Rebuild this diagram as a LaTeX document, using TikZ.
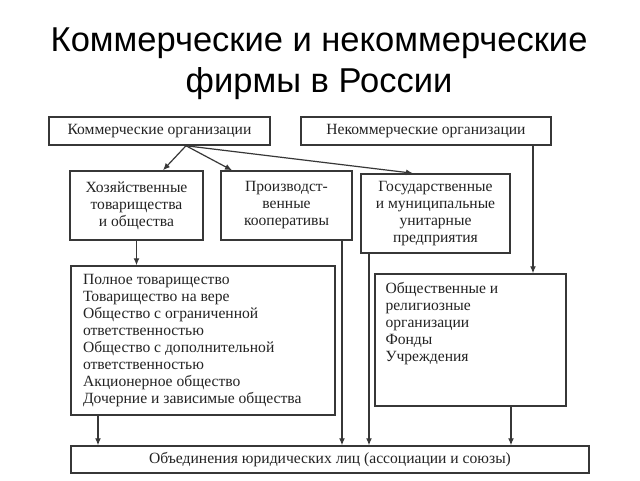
\documentclass[tikz,border=0pt]{standalone}
\usepackage{fontspec}
\setmainfont{Liberation Serif}
\newfontfamily\titlefont{Liberation Sans}
\usetikzlibrary{arrows.meta,calc,positioning}
\definecolor{orgline}{RGB}{55,55,55}
\definecolor{orgtext}{RGB}{35,35,35}

\begin{document}
\begin{tikzpicture}[x=1pt,y=-1pt,line cap=round,
  orgbox/.style={draw=orgline,line width=1.5pt,inner sep=0pt,
   font=\fontsize{15.6}{17}\selectfont,text=orgtext,align=center},
  arr/.style={-{Latex[length=7pt,width=6pt]},draw=orgline,line width=1.2pt}]
 \fill[white] (0,0) rectangle (640,480);
 \node[font=\titlefont\fontsize{34.5}{41}\selectfont,align=center,
  inner sep=0pt,anchor=north] (title) at (319,28)
  {Коммерческие и некоммерческие\\фирмы в России};
 % upper row
 \node[orgbox,minimum width=221,minimum height=28] (kom) at (159.5,131)
  {Коммерческие организации};
 \node[orgbox,minimum width=250,minimum height=28] (nekom) at (426,131)
  {Некоммерческие организации};
 \node[orgbox,minimum width=133,minimum height=69] (hoz) at (136.5,205.5)
  {Хозяйственные\\товарищества\\и общества};
 \node[orgbox,minimum width=131,minimum height=69] (koop) at (286.5,205.5)
  {Производст-\\венные\\кооперативы};
 \node[orgbox,minimum width=149,minimum height=79] (gup) at (435.5,213.5)
  {Государственные\\и муниципальные\\унитарные\\предприятия};
 % lists
 \node[orgbox,minimum width=264,minimum height=149,align=left] (spisok)
  at (203,340.5)
  {\parbox{240pt}{Полное товарищество\\Товарищество на вере\\
   Общество с ограниченной\\ответственностью\\
   Общество с дополнительной\\ответственностью\\
   Акционерное общество\\Дочерние и зависимые общества}};
 \node[orgbox,minimum width=191,minimum height=132] (obsh) at (470.5,340)
  {\parbox[c][116pt][t]{170pt}{Общественные и\\религиозные\\организации\\
   Фонды\\Учреждения}};
 \node[orgbox,minimum width=518,minimum height=27] (obed) at (330,459.5)
  {Объединения юридических лиц (ассоциации и союзы)};
 % connectors
 \coordinate (komout) at ([xshift=26.5pt]kom.south);
 \draw[arr] (komout) -- ([xshift=26.5pt]hoz.north);
 \draw[arr] (komout) -- ([xshift=-54.5pt]koop.north);
 \draw[arr] (komout) -- ([xshift=-22.5pt]gup.north);
 \draw[arr] ([xshift=107pt]nekom.south) -- ([xshift=107pt]nekom.south |- obsh.north);
 \draw[arr] (hoz.south) -- (hoz.south |- spisok.north);
 \draw[arr] ([xshift=-105pt]spisok.south) -- ([xshift=-105pt]spisok.south |- obed.north);
 \draw[arr] ([xshift=55.5pt]koop.south) -- ([xshift=55.5pt]koop.south |- obed.north);
 \draw[arr] ([xshift=-66.5pt]gup.south) -- ([xshift=-66.5pt]gup.south |- obed.north);
 \draw[arr] ([xshift=40.5pt]obsh.south) -- ([xshift=40.5pt]obsh.south |- obed.north);
\end{tikzpicture}
\end{document}
